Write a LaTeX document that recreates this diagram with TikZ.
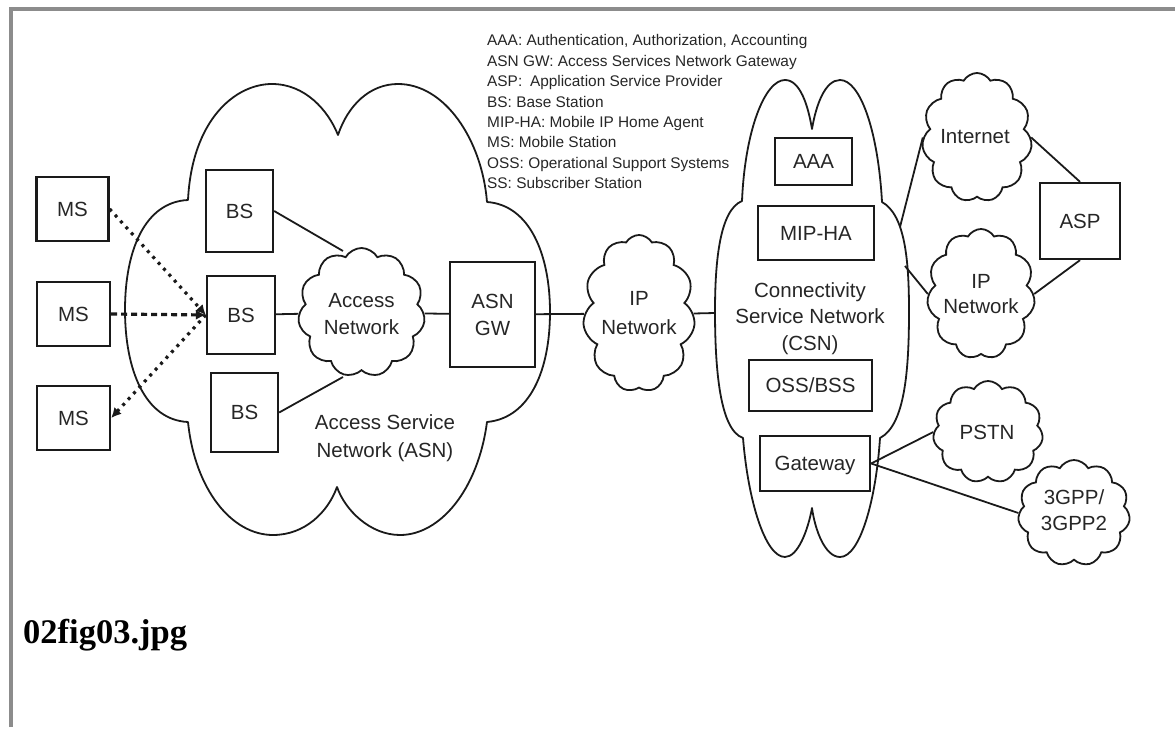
\documentclass[tikz,border=0pt]{standalone}
\usepackage{fontspec}
\setmainfont{Liberation Sans}
\newfontfamily\capfont{Liberation Serif}
\usetikzlibrary{shapes.symbols,arrows.meta}
\definecolor{ink}{HTML}{1A1A1A}
\definecolor{txt}{HTML}{262626}
\definecolor{framegray}{HTML}{8C8C8C}
\begin{document}
\begin{tikzpicture}[x=1pt,y=-1pt,
  box/.style={draw=ink, line width=2.3pt, inner sep=0pt, text=txt, align=center,
    font=\fontsize{20.5}{27}\selectfont},
  puffy/.style={cloud, cloud puffs=11, cloud puff arc=120, cloud ignores aspect,
    draw=ink, line width=1.8pt, inner sep=0pt},
  lbl/.style={inner sep=0pt, text=txt, align=center, anchor=base},
  bigcloud/.style={draw=ink, line width=1.8pt, line join=round},
  link/.style={draw=ink, line width=1.8pt},
  dotlink/.style={draw=ink, line width=3.2pt, dash pattern=on 3pt off 5pt, -{Latex[length=10pt,width=10pt]}},
  dashlink/.style={draw=ink, line width=3.2pt, dash pattern=on 6pt off 4pt, -{Latex[length=10pt,width=10pt]}},
  legendtext/.style={inner sep=0pt, text=txt, align=left, anchor=north west,
    font=\fontsize{15.4}{20.4}\selectfont},
]
\useasboundingbox (0,0) rectangle (1175,730);
% frame
\draw[framegray, line width=4pt] (11,727) -- (11,9.5) -- (1175,9.5);

% ---------- ASN big cloud ----------
\draw[bigcloud] (188,200) .. controls (192,120) and (235,84) .. (272,84)
  .. controls (305,84) and (328,110) .. (338,135)
  .. controls (348,105) and (370,84) .. (398,84)
  .. controls (445,84) and (482,140) .. (487,202)
  .. controls (530,205) and (550,255) .. (550,312)
  .. controls (550,370) and (530,418) .. (487,422)
  .. controls (478,490) and (440,535) .. (400,535)
  .. controls (370,535) and (345,510) .. (337,487)
  .. controls (328,512) and (305,535) .. (273,535)
  .. controls (232,535) and (195,490) .. (188,422)
  .. controls (145,420) and (125,370) .. (125,310)
  .. controls (125,250) and (145,202) .. (188,200) -- cycle;

% ---------- CSN big cloud ----------
\draw[bigcloud] (742,201) .. controls (745,130) and (765,80) .. (785,80)
  .. controls (800,80) and (808,105) .. (812,129)
  .. controls (816,105) and (825,80) .. (840,80)
  .. controls (860,80) and (878,130) .. (882,202)
  .. controls (905,215) and (909,260) .. (909,311)
  .. controls (909,370) and (905,425) .. (880,438)
  .. controls (876,500) and (860,557) .. (840,557)
  .. controls (825,557) and (815,530) .. (812,508)
  .. controls (808,530) and (798,557) .. (785,557)
  .. controls (765,557) and (748,500) .. (743,438)
  .. controls (720,430) and (715,370) .. (715,311)
  .. controls (715,260) and (720,210) .. (742,201) -- cycle;

% ---------- boxes ----------
\node[box, minimum width=72, minimum height=64] (ms1) at (72.5,209) {MS};
\node[box, minimum width=73, minimum height=64] (ms2) at (73.5,314) {MS};
\node[box, minimum width=73, minimum height=64] (ms3) at (73.5,418) {MS};
\node[box, minimum width=67, minimum height=82] (bs1) at (239.5,211) {BS};
\node[box, minimum width=68, minimum height=78] (bs2) at (241,315) {BS};
\node[box, minimum width=67, minimum height=79] (bs3) at (244.5,412.5) {BS};
\node[box, minimum width=85, minimum height=105] (asngw) at (492.5,314.5) {ASN\\GW};
\node[box, minimum width=77, minimum height=47] (aaa) at (813.5,161.5) {AAA};
\node[box, minimum width=116, minimum height=54] (miph) at (816,233) {MIP-HA};
\node[box, minimum width=123, minimum height=51, text depth=0pt] (oss) at (810.5,385.5) {OSS/BSS};
\node[box, minimum width=110, minimum height=55, text depth=0pt] (gw) at (815,463.5) {Gateway};
\node[box, minimum width=80, minimum height=76] (asp) at (1080,221) {ASP};

% ---------- small clouds ----------
\node[puffy, minimum width=127, minimum height=129] (an) at (361.5,312.5) {};
\node[puffy, minimum width=112, minimum height=157] (ip) at (639,313.5) {};
\node[puffy, minimum width=110, minimum height=129] (inet) at (977,137.5) {};
\node[puffy, minimum width=108, minimum height=130] (ipn) at (981,294) {};
\node[puffy, minimum width=110, minimum height=102] (pstn) at (988,432) {};
\node[puffy, minimum width=112, minimum height=106] (gpp) at (1074,513) {};

% ---------- labels (anchor = baseline of last line) ----------
\node[lbl, font=\fontsize{20.5}{27}\selectfont] (anl) at (361.5,334.3) {Access\\Network};
\node[lbl, font=\fontsize{20.5}{29}\selectfont] (ipl) at (639,334.3) {IP\\Network};
\node[lbl, font=\fontsize{20.5}{28}\selectfont] (asnl) at (385,457.8) {Access Service\\Network (ASN)};
\node[lbl, font=\fontsize{20.5}{26.5}\selectfont] (csnl) at (810,350.3) {Connectivity\\Service Network\\(CSN)};
\node[lbl, font=\fontsize{20.5}{25}\selectfont] (inetl) at (975,143.3) {Internet};
\node[lbl, font=\fontsize{20.5}{25}\selectfont] (ipnl) at (981,313.3) {IP\\Network};
\node[lbl, font=\fontsize{20.5}{25}\selectfont] (pstnl) at (987,439.3) {PSTN};
\node[lbl, font=\fontsize{20.5}{26}\selectfont] (gppl) at (1074,530.3) {3GPP/\\3GPP2};

% legend
\node[legendtext] (legend) at (487,34.5) {AAA: Authentication, Authorization, Accounting\\
ASN GW: Access Services Network Gateway\\
ASP:\enspace Application Service Provider\\
BS: Base Station\\
MIP-HA: Mobile IP Home Agent\\
MS: Mobile Station\\
OSS: Operational Support Systems\\
SS: Subscriber Station};

% caption
\node[anchor=base west, inner sep=0pt, font=\capfont\bfseries\fontsize{34.5}{40}\selectfont] (cap) at (23,643) {02fig03.jpg};

% ---------- attachment coordinates ----------
\coordinate (anNW) at (343,251);
\coordinate (anSW) at (343,377);
\coordinate (csnW) at (715,313);
\coordinate (csnNE) at (900,227);
\coordinate (csnE) at (905,266);

% ---------- connectors ----------
\draw[dotlink] (ms1.east) -- (bs2.west);
\draw[dashlink] (ms2.east) -- (bs2.west);
\draw[dotlink] (bs2.west) -- (ms3.east);
\draw[link] (bs1.east) -- (anNW);
\draw[link] (bs2) -- (an);
\draw[link] (bs3.east) -- (anSW);
\draw[link] (an) -- (asngw);
\draw[link] (asngw) -- (ip);
\draw[link] (ip.east) -- (csnW);
\draw[link] (csnNE) -- (inet.west);
\draw[link] (csnE) -- (ipn.west);
\draw[link] (inet.east) -- (asp.north);
\draw[link] (ipn.east) -- (asp.south);
\draw[link] (gw.east) -- (pstn.west);
\draw[link] (gw.east) -- (gpp.west);
\end{tikzpicture}
\end{document}
